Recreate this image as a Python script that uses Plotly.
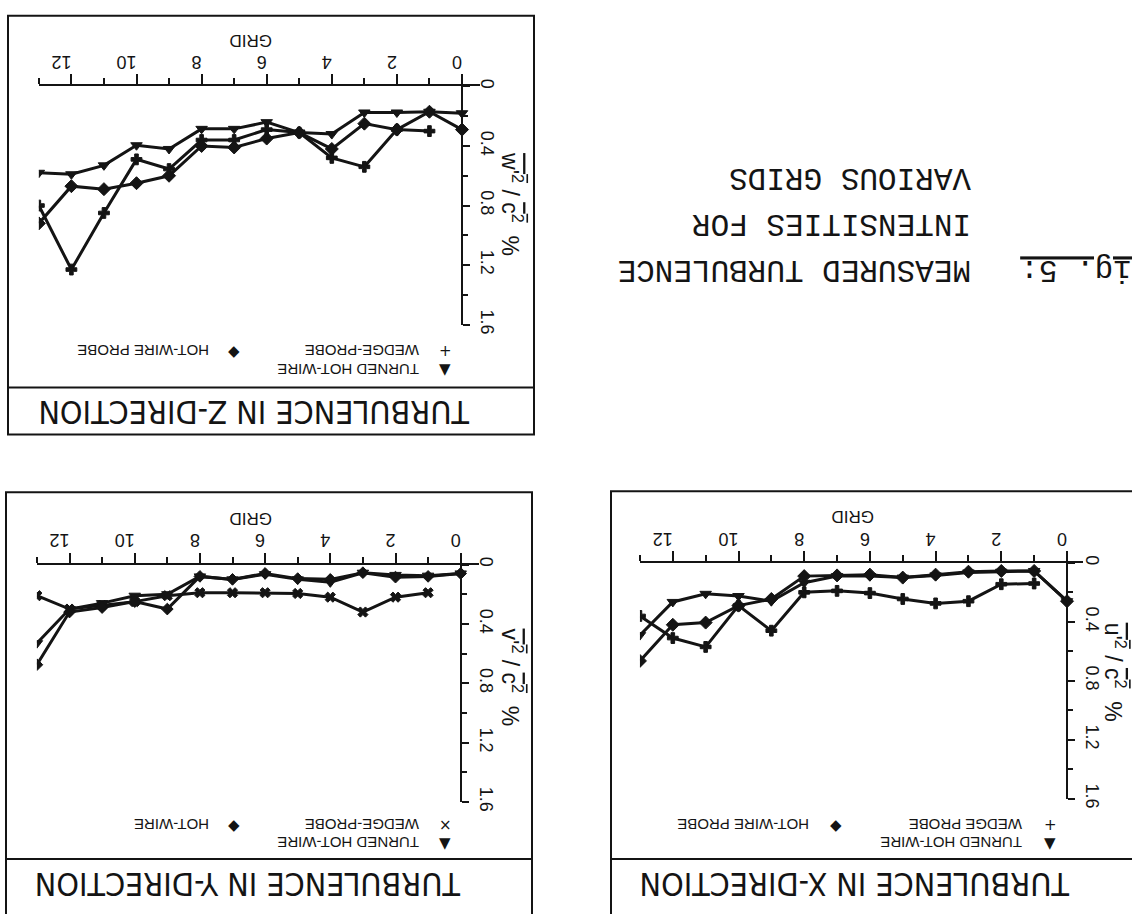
import plotly.graph_objects as go

# ---------------- data ----------------
grid = [0, 1, 2, 3, 4, 5, 6, 7, 8, 9, 10, 11, 12, 13]

# Turbulence in Z-direction  (w'^2 / c^2 %)
z_turned = [0.18, 0.17, 0.175, 0.175, 0.32, 0.31, 0.24, 0.285, 0.285, 0.42, 0.395, 0.53, 0.59, 0.58]
z_wedge = [None, 0.30, 0.29, 0.54, 0.48, 0.31, 0.29, 0.36, 0.36, 0.555, 0.49, 0.85, 1.23, 0.80]
z_hotwire = [0.29, 0.17, 0.29, 0.25, 0.42, 0.31, 0.35, 0.41, 0.40, 0.60, 0.65, 0.69, 0.67, 0.92]

# Turbulence in Y-direction  (v'^2 / c^2 %)
y_turned = [0.06, 0.075, 0.07, 0.055, 0.12, 0.10, 0.065, 0.10, 0.08, 0.20, 0.21, 0.26, 0.30, 0.53]
y_hotwire = [0.06, 0.08, 0.085, 0.055, 0.10, 0.095, 0.06, 0.10, 0.08, 0.30, 0.25, 0.29, 0.32, 0.675]
y_wedge = [None, 0.19, 0.22, 0.32, 0.22, 0.195, 0.19, 0.19, 0.19, 0.21, 0.25, 0.275, 0.30, 0.21]

# Turbulence in X-direction  (u'^2 / c^2 %)
x_hotwire = [0.26, 0.055, 0.055, 0.06, 0.08, 0.10, 0.08, 0.085, 0.09, 0.245, 0.29, 0.405, 0.42, 0.665]
x_turned = [0.26, 0.055, 0.06, 0.065, 0.085, 0.10, 0.09, 0.09, 0.135, 0.26, 0.225, 0.21, 0.265, 0.49]
x_wedge = [None, 0.14, 0.145, 0.26, 0.275, 0.245, 0.205, 0.19, 0.20, 0.46, 0.29, 0.57, 0.51, 0.36]

x_tick_vals = [0, 2, 4, 6, 8, 10, 12]
x_tick_text = ["0", "2", "4", "6", "8", "10", "12"]
y_tick_vals = [0, 0.4, 0.8, 1.2, 1.6]
y_tick_text = ["0", "0.4", "0.8", "1.2", "1.6"]

# ---------------- layout helpers ----------------
W, H = 1132, 914
INK = "#141414"
SANS = "Liberation Sans, Arial, sans-serif"
NARROW = "Liberation Sans Narrow, DejaVu Sans Condensed, Arial Narrow, sans-serif"
MONO = "Liberation Mono, Courier New, monospace"


def fx(px):
    return px / W


def fy(py):
    return 1 - py / H


def note(text, px, py, size, family=SANS, angle=180, xanchor="center", yanchor="middle"):
    return dict(text=text, x=fx(px), y=fy(py), xref="paper", yref="paper", showarrow=False,
                textangle=angle, xanchor=xanchor, yanchor=yanchor,
                font=dict(family=family, size=size, color=INK))


# panel geometry in pixels (figure is shown rotated by 180 degrees)
panels = [
    dict(name="Z", g0=462.0, step=32.55, xlo=-0.55, y0=80.0, y16=323.0,
         box=(8, 8, 534, 435), divider=387, title_xy=(254, 412),
         grid_xy=(250, 33), ytitle_xy=(512, 200), ylab="w'", leg_y=(350, 368),
         leg_mx=(445, 234), leg_tx=(421, 211)),
    dict(name="Y", g0=460.7, step=32.6, xlo=-0.55, y0=567.7, y16=810.0,
         box=(6, 494, 532, 940), divider=868, title_xy=(248, 893),
         grid_xy=(250, 521), ytitle_xy=(512, 683), ylab="v'", leg_y=(833, 852),
         leg_mx=(445, 234), leg_tx=(421, 211)),
    dict(name="X", g0=1067.0, step=32.85, xlo=-0.5, y0=566.0, y16=806.7,
         box=(611, 493, 1160, 940), divider=868, title_xy=(855, 893),
         grid_xy=(853, 518), ytitle_xy=(1115, 677), ylab="u'", leg_y=(833, 852),
         leg_mx=(1050, 836), leg_tx=(1024, 811)),
]

series = {
    "Z": [(z_turned, "triangle-down", 10), (z_wedge, "cross", 9), (z_hotwire, "diamond", 10)],
    "Y": [(y_turned, "triangle-down", 10), (y_wedge, "x", 9), (y_hotwire, "diamond", 9)],
    "X": [(x_turned, "triangle-down", 10), (x_wedge, "cross", 9), (x_hotwire, "diamond", 10)],
}
legend_text = {
    "Z": ("+", "WEDGE-PROBE", "◆", "HOT-WIRE PROBE"),
    "Y": ("×", "WEDGE-PROBE", "◆", "HOT-WIRE"),
    "X": ("+", "WEDGE PROBE", "◆", "HOT-WIRE PROBE"),
}
titles = {"Z": "TURBULENCE IN Z-DIRECTION", "Y": "TURBULENCE IN Y-DIRECTION",
          "X": "TURBULENCE IN X-DIRECTION"}

fig = go.Figure()
layout = dict(width=W, height=H, margin=dict(l=0, r=0, t=0, b=0), autosize=False,
              paper_bgcolor="white", plot_bgcolor="rgba(0,0,0,0)", showlegend=False)
shapes = []
annotations = []

for i, p in enumerate(panels, start=1):
    sx = "" if i == 1 else str(i)
    left_px = p["g0"] - 13 * p["step"]
    right_px = p["g0"] - p["xlo"] * p["step"]
    layout["xaxis" + sx] = dict(
        domain=[fx(left_px), fx(right_px)], range=[13, p["xlo"]], side="top",
        anchor="y" + sx, showline=True, linecolor=INK, linewidth=2,
        ticks="outside", ticklen=10, tickwidth=2, tickcolor=INK,
        tickvals=x_tick_vals, ticktext=x_tick_text, tickangle=180, ticklabelstandoff=-7,
        tickfont=dict(family=SANS, size=18, color=INK),
        minor=dict(dtick=1, tick0=0, ticklen=6, tickwidth=2, tickcolor=INK, ticks="outside"),
        showgrid=False, zeroline=False, fixedrange=True)
    layout["yaxis" + sx] = dict(
        domain=[fy(p["y16"]), fy(p["y0"])], range=[1.6, 0], anchor="free",
        position=fx(p["g0"]), side="right", showline=True, linecolor=INK, linewidth=2,
        ticks="outside", ticklen=7, tickwidth=2, tickcolor=INK,
        tickvals=y_tick_vals, ticktext=y_tick_text, tickangle=90, ticklabelstandoff=4,
        tickfont=dict(family=SANS, size=18, color=INK),
        minor=dict(dtick=0.2, tick0=0, ticklen=5, tickwidth=2, tickcolor=INK, ticks="outside"),
        showgrid=False, zeroline=False, fixedrange=True)

    for vals, sym, size in series[p["name"]]:
        fig.add_trace(go.Scatter(
            x=grid, y=vals, xaxis="x" + sx, yaxis="y" + sx, mode="lines+markers",
            line=dict(color=INK, width=3),
            marker=dict(symbol=sym, size=size, color=INK, line=dict(color=INK, width=1)),
            connectgaps=False, hoverinfo="skip"))

    bx0, by0, bx1, by1 = p["box"]
    shapes.append(dict(type="rect", xref="paper", yref="paper", x0=fx(bx0), x1=fx(bx1),
                       y0=fy(by1), y1=fy(by0), line=dict(color=INK, width=2)))
    shapes.append(dict(type="line", xref="paper", yref="paper", x0=fx(bx0), x1=fx(bx1),
                       y0=fy(p["divider"]), y1=fy(p["divider"]), line=dict(color=INK, width=2)))

    tx, ty = p["title_xy"]
    annotations.append(note(titles[p["name"]], tx, ty, 32, family=NARROW))
    gx, gy = p["grid_xy"]
    annotations.append(note("GRID", gx, gy, 17))
    yx, yy = p["ytitle_xy"]
    ol = "text-decoration:overline"
    ytxt = (f"<span style='{ol}'>{p['ylab']}<sup>2</sup></span> / "
            f"<span style='{ol}'>c<sup>2</sup></span>  %")
    annotations.append(note(ytxt, yx, yy, 23, angle=90))

    s1, t1, s2, t2 = legend_text[p["name"]]
    r1, r2 = p["leg_y"]
    m1, m2 = p["leg_mx"]
    e1, e2 = p["leg_tx"]
    key = [(s1, m1, r1, t1, e1), (s2, m2, r1, t2, e2), ("▼", m1, r2, "TURNED HOT-WIRE", e1)]
    for sym, mx, ry, txt, ex in key:
        annotations.append(note(sym, mx, ry, 15, family="DejaVu Sans", angle=0))
        annotations.append(note(txt, ex, ry, 15, xanchor="right"))

# figure caption (typewritten, upside down)
cap_size = 31
char_w = 0.6 * cap_size
cap_right = 973
caption = [("MEASURED TURBULENCE", 267), ("INTENSITIES FOR", 220), ("VARIOUS GRIDS", 173)]
for txt, cy in caption:
    annotations.append(note(txt, cap_right, cy, cap_size, family=MONO, xanchor="right"))
fig_label = "Fig. 5:"
annotations.append(note("<u>" + fig_label + "</u>", cap_right + 2 * char_w + 8, 267, cap_size,
                        family=MONO, xanchor="left"))

layout["shapes"] = shapes
layout["annotations"] = annotations
fig.update_layout(**layout)
fig.write_html("out.html", config={"displayModeBar": False},
               post_script="document.body.style.margin='0px';")
